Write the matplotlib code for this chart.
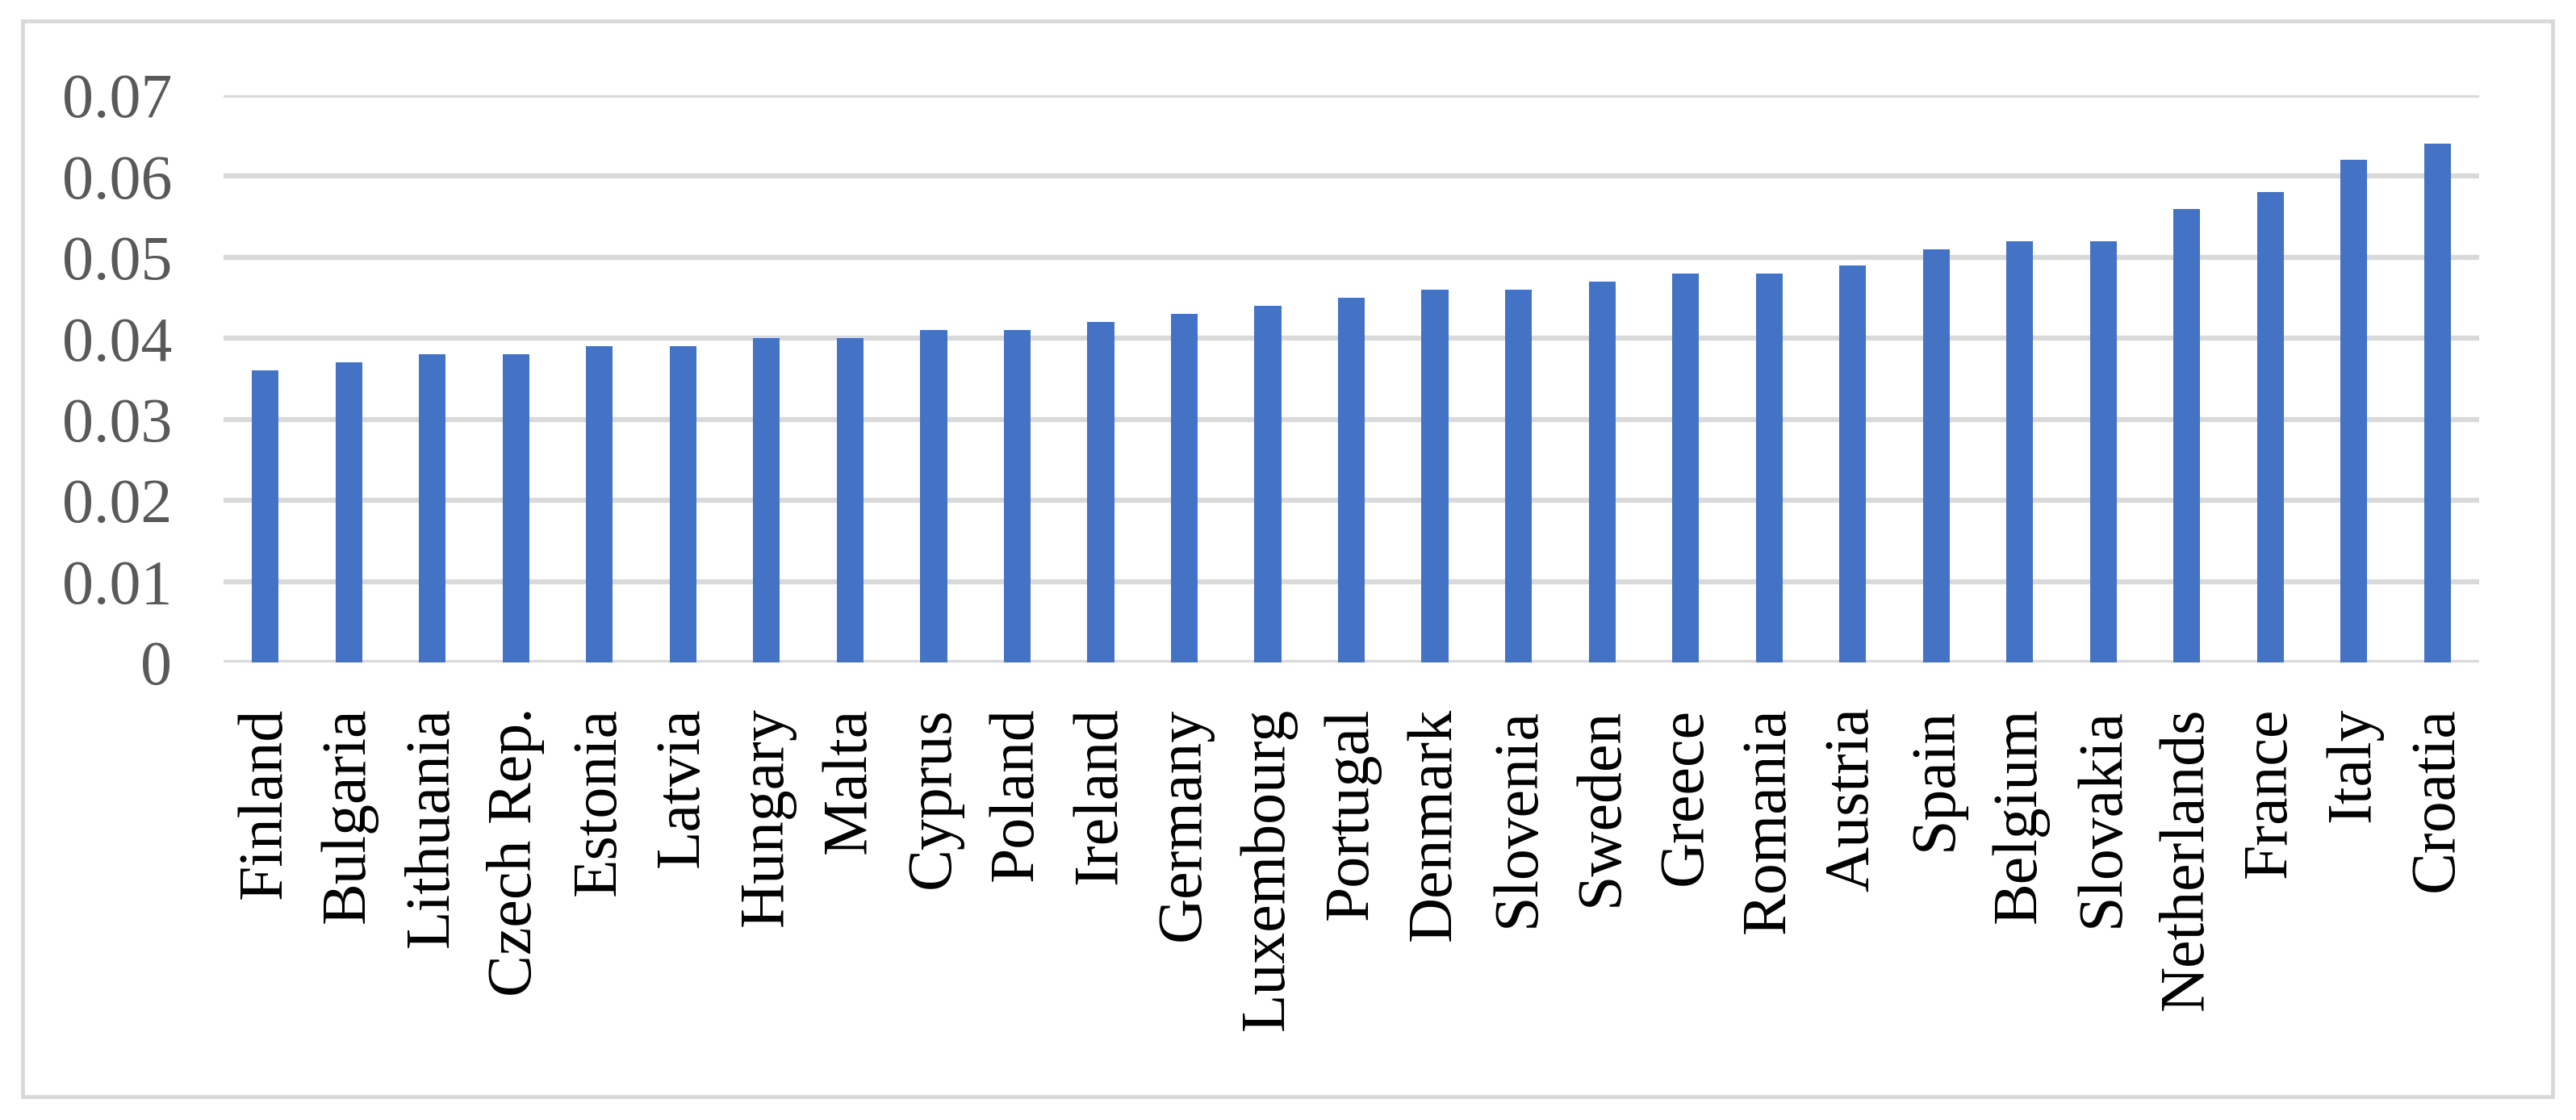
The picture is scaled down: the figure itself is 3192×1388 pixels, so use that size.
import matplotlib.pyplot as plt
from matplotlib.patches import Rectangle

countries = ['Finland', 'Bulgaria', 'Lithuania', 'Czech Rep.', 'Estonia', 'Latvia',
             'Hungary', 'Malta', 'Cyprus', 'Poland', 'Ireland', 'Germany',
             'Luxembourg', 'Portugal', 'Denmark', 'Slovenia', 'Sweden', 'Greece',
             'Romania', 'Austria', 'Spain', 'Belgium', 'Slovakia', 'Netherlands',
             'France', 'Italy', 'Croatia']
values = [0.036, 0.037, 0.038, 0.038, 0.039, 0.039, 0.040, 0.040, 0.041, 0.041,
          0.042, 0.043, 0.044, 0.045, 0.046, 0.046, 0.047, 0.048, 0.048, 0.049,
          0.051, 0.052, 0.052, 0.056, 0.058, 0.062, 0.064]
y_ticks = [0, 0.01, 0.02, 0.03, 0.04, 0.05, 0.06, 0.07]
y_labels = ['0', '0.01', '0.02', '0.03', '0.04', '0.05', '0.06', '0.07']

plt.rcParams['font.family'] = ['Liberation Serif', 'DejaVu Serif']

fig = plt.figure(figsize=(31.92, 13.88), dpi=100)
ax = fig.add_axes([0.0868, 0.4085, 0.8756, 0.5065])

# outer chart border
fig.patches.append(Rectangle((28 / 3192, 1 - 1359 / 1388), (3163 - 28) / 3192,
                             (1359 - 26) / 1388, transform=fig.transFigure,
                             fill=False, edgecolor='#d9d9d9', linewidth=3.5))

x = range(len(countries))
ax.bar(x, values, width=0.32, color='#4472C4', zorder=3)

ax.set_xlim(-0.5, len(countries) - 0.5)
ax.set_ylim(0, 0.07)
ax.set_yticks(y_ticks)
ax.set_yticklabels(y_labels)
ax.set_xticks(list(x))
ax.set_xticklabels(countries, rotation=90)

ax.grid(axis='y', color='#d9d9d9', linewidth=4.5, zorder=0)
ax.set_axisbelow(True)
for s in ax.spines.values():
    s.set_visible(False)

ax.tick_params(axis='y', length=0, pad=46, labelsize=56, labelcolor='#595959')
ax.tick_params(axis='x', length=0, pad=40, labelsize=56, labelcolor='black')

fig.savefig('out.png', dpi=100)
